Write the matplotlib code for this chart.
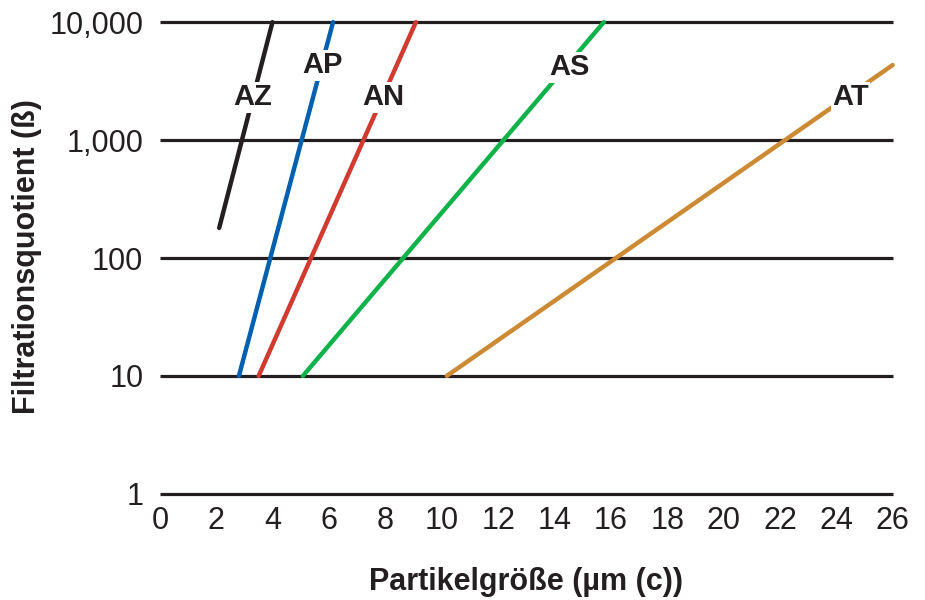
import matplotlib
matplotlib.use('Agg')
import matplotlib.pyplot as plt

plt.rcParams['font.family'] = ['Liberation Sans', 'DejaVu Sans']

# Filterklassen: Start- und Endpunkt (Partikelgröße, Beta)
namen = ['AZ', 'AP', 'AN', 'AS', 'AT']
x_start = [2.1, 2.8, 3.5, 5.07, 10.18]
beta_start = [180, 10, 10, 10, 10]
x_ende = [3.99, 6.14, 9.08, 15.75, 26.0]
beta_ende = [10000, 10000, 10000, 10000, 4330]
farben = ['#231f20', '#0060b0', '#d03a2f', '#10b24a', '#cc8a34']

# Position der Beschriftungen
label_x = [3.3, 5.78, 7.91, 14.54, 24.5]
label_y = [2310, 4330, 2310, 4160, 2310]

y_ticks = [1, 10, 100, 1000, 10000]
y_tick_labels = ['1', '10', '100', '1,000', '10,000']
x_ticks = list(range(0, 27, 2))

fig = plt.figure(figsize=(9.25, 6), dpi=100)
ax = fig.add_axes([0.173, 0.177, 0.792, 0.786])
ax.set_yscale('log')
ax.set_xlim(0, 26)
ax.set_ylim(1, 10000)

# horizontale Linien
ax.hlines(y_ticks, 0, 26, colors='#231f20', linewidth=2.3, clip_on=False, zorder=1)

for i in range(len(namen)):
    ax.plot([x_start[i], x_ende[i]], [beta_start[i], beta_ende[i]], color=farben[i],
            linewidth=3.2, solid_capstyle='round', clip_on=False, zorder=2)
    ax.text(label_x[i], label_y[i], namen[i], fontsize=21, fontweight='bold', color='#231f20',
            ha='center', va='center', zorder=3,
            bbox=dict(facecolor='white', edgecolor='none', pad=1))

for s in ax.spines.values():
    s.set_visible(False)
ax.minorticks_off()
ax.set_yticks(y_ticks)
ax.set_yticklabels(y_tick_labels)
ax.set_xticks(x_ticks)
ax.tick_params(length=0, labelsize=22, colors='#231f20')
ax.tick_params(axis='y', pad=12)
ax.tick_params(axis='x', pad=9)

ax.set_xlabel('Partikelgröße (µm (c))', fontsize=22, fontweight='bold', color='#231f20', labelpad=22)
# y-Beschriftung fest am linken Rand
fig.text(27 / 925, 1 - 257 / 600, 'Filtrationsquotient (ß)', fontsize=22, fontweight='bold',
         color='#231f20', rotation=90, ha='center', va='center')

fig.savefig('out.png', dpi=100)
